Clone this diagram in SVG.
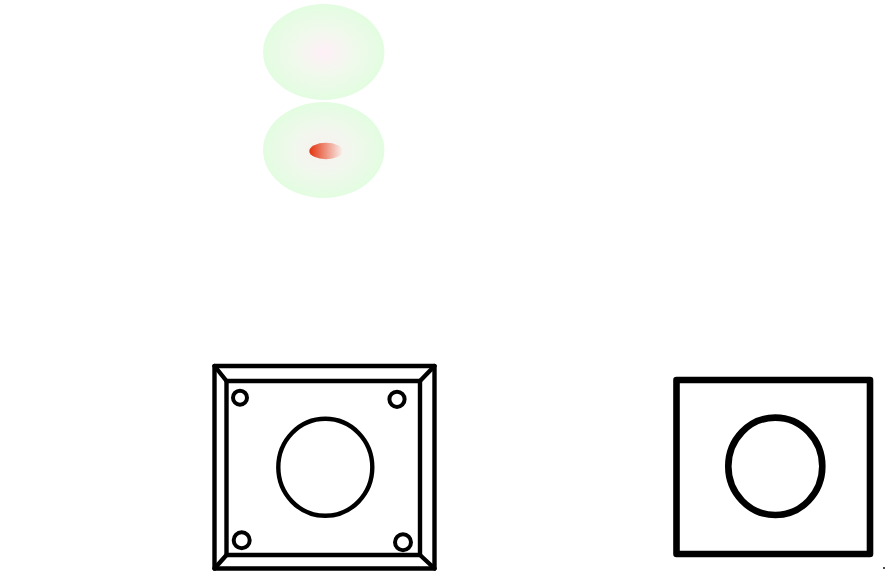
<svg xmlns="http://www.w3.org/2000/svg" width="886" height="574" viewBox="0 0 886 574">
<style>
.l{fill:none;stroke:#000;stroke-linejoin:round;stroke-linecap:round}
.a{stroke-width:4.4}
.s{stroke-width:4}
.t{stroke-width:6.6}
</style>
<defs>
<radialGradient id="g1"><stop offset="0" stop-color="#fff0f8"/><stop offset="0.5" stop-color="#f0f9ec"/><stop offset="1" stop-color="#e3fde1"/></radialGradient>
<radialGradient id="g2"><stop offset="0" stop-color="#f8f0f0"/><stop offset="0.45" stop-color="#f2f7ee"/><stop offset="1" stop-color="#e3fde1"/></radialGradient>
<linearGradient id="g3"><stop offset="0" stop-color="#e4330f"/><stop offset="1" stop-color="#f8f2ee"/></linearGradient>
</defs>
<rect width="886" height="574" fill="#fff"/>
<g id="blob-top"><ellipse cx="323.7" cy="52" rx="60.7" ry="48" fill="url(#g1)"/></g>
<g id="blob-bottom"><ellipse cx="323.7" cy="150" rx="60.7" ry="48" fill="url(#g2)"/><ellipse cx="326" cy="151" rx="16.7" ry="8.3" fill="url(#g3)"/></g>
<g id="plate-left">
<rect class="l a" x="214.5" y="366" width="220" height="202.5"/>
<rect class="l a" x="226.5" y="381" width="193.5" height="174"/>
<path class="l a" d="M214.5 366L226.5 381M434.5 366L420 381M214.5 568.5L226.5 555M434.5 568.5L420 555"/>
<ellipse class="l a" cx="325.3" cy="467.3" rx="47" ry="48.5"/>
<circle class="l s" cx="240" cy="397.7" r="7"/>
<circle class="l s" cx="397" cy="399.3" r="7.6"/>
<circle class="l s" cx="241.7" cy="540.3" r="8"/>
<circle class="l s" cx="403" cy="542.3" r="8"/>
</g>
<g id="plate-right">
<rect class="l t" x="676.5" y="380" width="193.5" height="174"/>
<ellipse class="l t" cx="775.3" cy="466.3" rx="47" ry="48.7"/>
</g>
<circle id="dot" cx="884" cy="568" r="1" fill="#111"/>
</svg>
